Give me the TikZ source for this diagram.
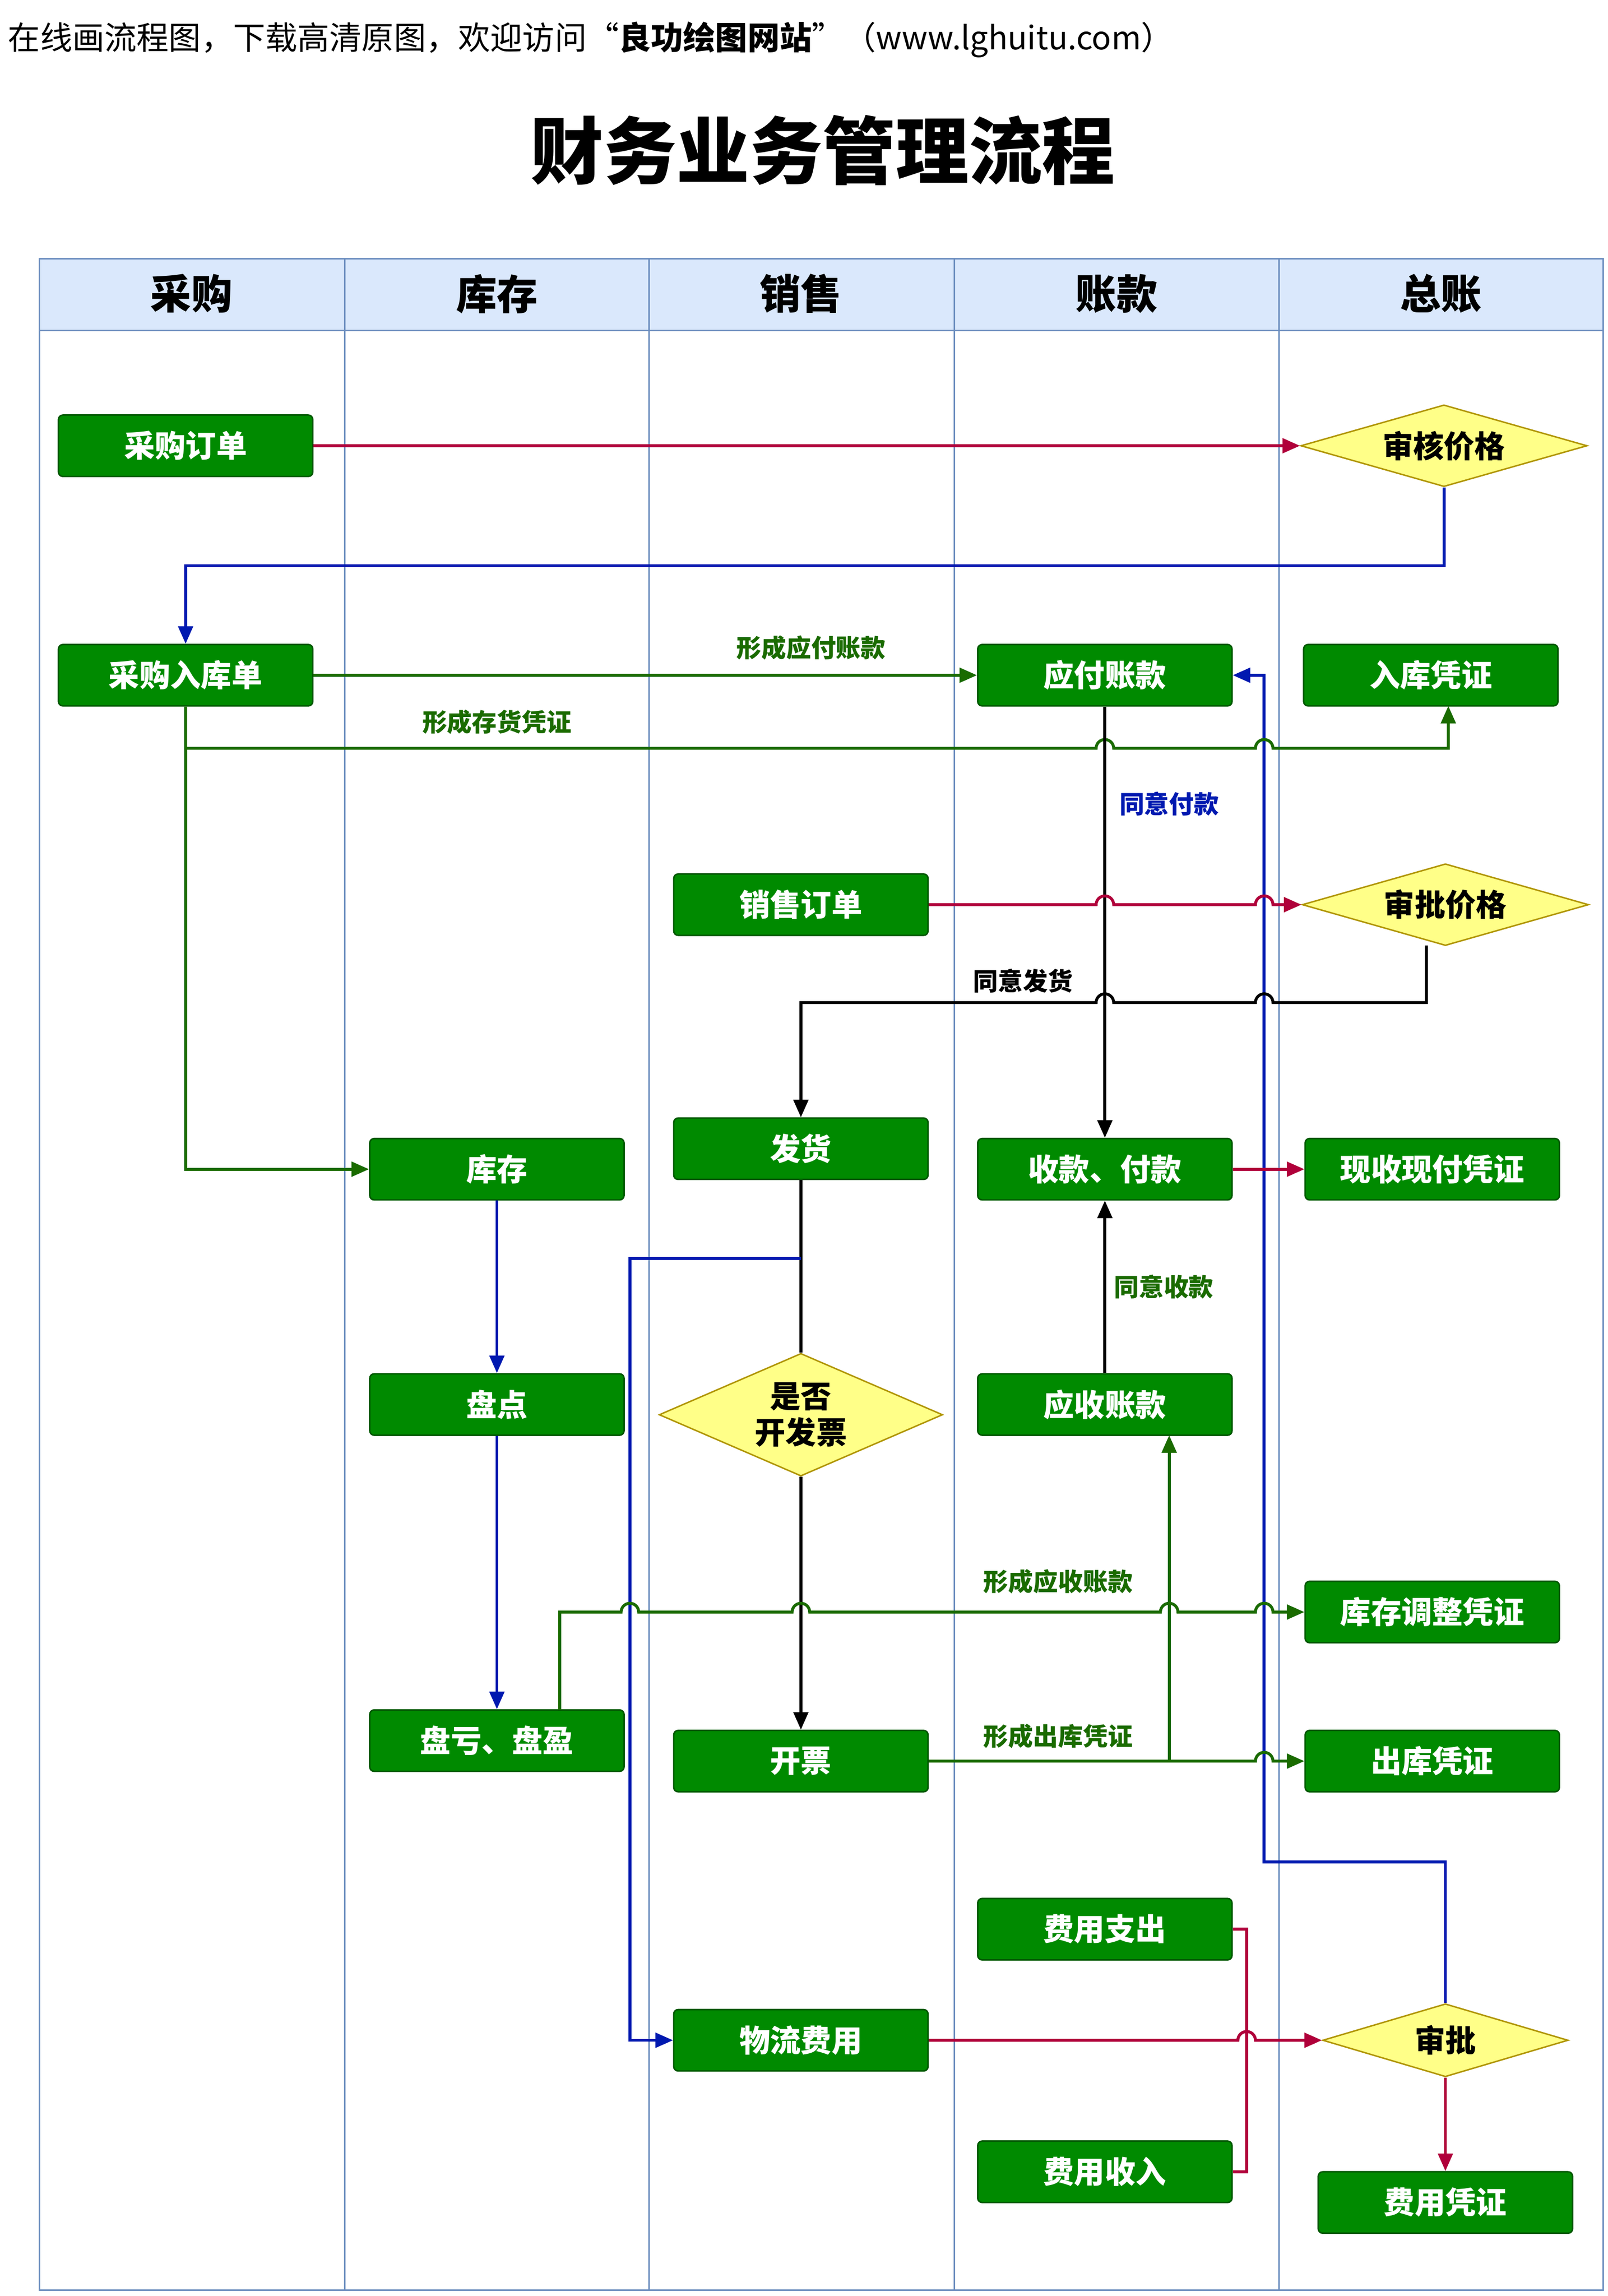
\documentclass[tikz,border=0pt]{standalone}
\usepackage{fontspec}
\setmainfont{Noto Sans CJK SC}
\usetikzlibrary{shapes.geometric,arrows.meta}
\definecolor{gfill}{HTML}{008A00}
\definecolor{gdraw}{HTML}{005700}
\definecolor{dfill}{HTML}{FFFF88}
\definecolor{ddraw}{HTML}{B09500}
\definecolor{cred}{HTML}{B0003A}
\definecolor{cblue}{HTML}{0019B0}
\definecolor{cgreen}{HTML}{1A6B00}
\definecolor{lane}{HTML}{6C8EBF}
\definecolor{head}{HTML}{DAE8FC}
\begin{document}
\begin{tikzpicture}[x=1pt,y=-1pt,
 box/.style={draw=gdraw,fill=gfill,rounded corners=3pt,minimum width=174pt,minimum height=42pt,text=white,font=\fontsize{21}{24}\selectfont\bfseries,line width=1pt},
 dia/.style={diamond,aspect=3.5,draw=ddraw,fill=dfill,inner sep=0pt,font=\fontsize{21}{24}\selectfont\bfseries,line width=1pt},
 ln/.style={line width=2pt,-{Triangle[length=12pt,width=10pt]}},
 lab/.style={font=\fontsize{17}{20}\selectfont\bfseries}]
\useasboundingbox (0,0) rectangle (1100,1571);
\fill[white] (0,0) rectangle (1100,1571);
\node[anchor=west,font=\fontsize{22}{26}\selectfont] (hd) at (2,27) {在线画流程图，下载高清原图，欢迎访问“\textbf{良功绘图网站}”（www.lghuitu.com）};
\node[font=\fontsize{50}{56}\selectfont\bfseries] (title) at (563,103) {财务业务管理流程};
% lanes
\fill[head] (27,177) rectangle (1097,226);
\draw[lane,line width=1pt] (27,177) rectangle (1097,1567);
\draw[lane,line width=1pt] (27,226) -- (1097,226);
\foreach \x in {236,444,653,875}{\draw[lane,line width=1pt] (\x,177) -- (\x,1567);}
\foreach \t/\x in {采购/131,库存/340,销售/548,账款/764,总账/986}{\node[font=\fontsize{28}{32}\selectfont\bfseries] at (\x,201) {\t};}
% nodes
\node[box] (cgdd) at (127,305) {采购订单};
\node[dia,minimum width=196pt,minimum height=56pt] (shjg) at (988,305) {审核价格};
\node[box] (cgrk) at (127,462) {采购入库单};
\node[box] (yfzk) at (756,462) {应付账款};
\node[box] (rkpz) at (979,462) {入库凭证};
\node[box] (xsdd) at (548,619) {销售订单};
\node[dia,minimum width=196pt,minimum height=56pt] (spjg) at (989,619) {审批价格};
\node[box] (kc) at (340,800) {库存};
\node[box] (fh) at (548,786) {发货};
\node[box] (skfk) at (756,800) {收款、付款};
\node[box] (xsxf) at (980,800) {现收现付凭证};
\node[box] (pd) at (340,961) {盘点};
\node[dia,aspect=2.3,minimum width=194pt,minimum height=84pt,align=center,font=\fontsize{21}{25}\selectfont\bfseries] (sf) at (548,968) {是否\\开发票};
\node[box] (yszk) at (756,961) {应收账款};
\node[box] (kctz) at (980,1103) {库存调整凭证};
\node[box] (pk) at (340,1191) {盘亏、盘盈};
\node[box] (kp) at (548,1205) {开票};
\node[box] (ckpz) at (980,1205) {出库凭证};
\node[box] (fyzc) at (756,1320) {费用支出};
\node[box] (wlfy) at (548,1396) {物流费用};
\node[dia,minimum width=168pt,minimum height=50pt] (sp) at (989,1396) {审批};
\node[box] (fysr) at (756,1486) {费用收入};
\node[box] (fypz) at (989,1507) {费用凭证};
\def\r{6}
% edges
\draw[ln,cred] (cgdd) -- (shjg);
\draw[ln,cblue] (shjg.south) -- (988,387) -- (127,387) -- (cgrk.north);
\draw[ln,cblue] (sp.north) -- (989,1274) -- (865,1274) -- (865,462) -- (yfzk.east);
\draw[ln,cgreen] (cgrk) -- node[lab,text=cgreen,above=6pt,pos=0.75]{形成应付账款} (yfzk);
\draw[ln,cgreen] (cgrk.south) -- (127,512) -- (756-\r,512) arc[start angle=180,end angle=360,radius=\r] -- (865-\r,512) arc[start angle=180,end angle=360,radius=\r] -- (991,512) -- (991,483);
\node[lab,text=cgreen] at (340,494) {形成存货凭证};
\draw[ln,cgreen] (127,512) -- (127,800) -- (kc.west);
\draw[ln] (yfzk.south) -- (skfk.north);
\node[lab,text=cblue] at (800,550) {同意付款};
\draw[ln,cred] (xsdd.east) -- (756-\r,619) arc[start angle=180,end angle=360,radius=\r] -- (865-\r,619) arc[start angle=180,end angle=360,radius=\r] -- (spjg.west);
\draw[ln] (976,647) -- (976,686) -- (865+\r,686) arc[start angle=0,end angle=-180,radius=\r] -- (756+\r,686) arc[start angle=0,end angle=-180,radius=\r] -- (548,686) -- (fh.north);
\node[lab] at (700,671) {同意发货};
\draw[ln,cred] (skfk) -- (xsxf);
\draw[ln] (yszk) -- node[lab,text=cgreen,right=2pt]{同意收款} (skfk);
\draw[ln,cblue] (kc) -- (pd);
\draw[ln,cblue] (pd) -- (pk);
\draw[line width=2pt] (fh.south) -- (sf.north);
\draw[ln,cblue] (548,861) -- (431,861) -- (431,1396) -- (wlfy.west);
\draw[ln] (sf.south) -- (kp.north);
\draw[ln,cgreen] (383,1170) -- (383,1103) -- (431-\r,1103) arc[start angle=180,end angle=360,radius=\r] -- (548-\r,1103) arc[start angle=180,end angle=360,radius=\r] -- (800-\r,1103) arc[start angle=180,end angle=360,radius=\r] -- (865-\r,1103) arc[start angle=180,end angle=360,radius=\r] -- (kctz.west);
\node[lab,text=cgreen] at (724,1082) {形成应收账款};
\draw[ln,cgreen] (kp.east) -- (865-\r,1205) arc[start angle=180,end angle=360,radius=\r] -- (ckpz.west);
\node[lab,text=cgreen] at (724,1188) {形成出库凭证};
\draw[ln,cgreen] (800,1205) -- (800,982);
\draw[line width=2pt,cred] (fyzc.east) -- (853,1320) -- (853,1486) -- (fysr.east);
\draw[ln,cred] (wlfy.east) -- (853-\r,1396) arc[start angle=180,end angle=360,radius=\r] -- (sp.west);
\draw[ln,cred] (sp.south) -- (fypz.north);
\end{tikzpicture}
\end{document}
